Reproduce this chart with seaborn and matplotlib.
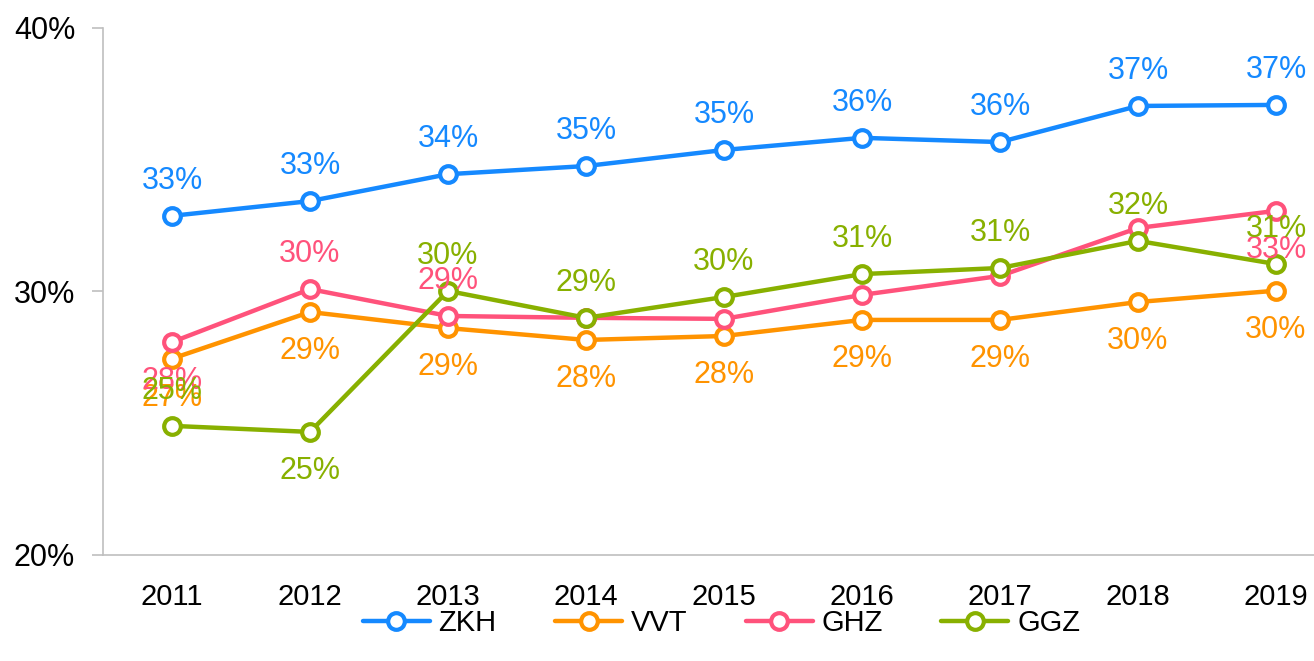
import matplotlib
matplotlib.use('Agg')
import matplotlib.pyplot as plt
import matplotlib.ticker as mticker
import pandas as pd
import seaborn as sns

# data (percent)
years = ['2011', '2012', '2013', '2014', '2015', '2016', '2017', '2018', '2019']
zkh = [32.87, 33.43, 34.45, 34.76, 35.37, 35.83, 35.67, 37.04, 37.08]
vvt = [27.45, 29.22, 28.61, 28.16, 28.31, 28.92, 28.92, 29.60, 30.03]
ghz = [28.08, 30.09, 29.07, 29.00, 28.96, 29.87, 30.59, 32.41, 33.06]
ggz = [24.90, 24.67, 30.02, 29.00, 29.79, 30.66, 30.89, 31.92, 31.04]
series = ['ZKH', 'VVT', 'GHZ', 'GGZ']
colors = ['#1589FF', '#FF9300', '#FF527B', '#88B000']

# where each data label goes: 1 above, -1 below, 0 no label
label_pos = {
    'ZKH': [1, 1, 1, 1, 1, 1, 1, 1, 1],
    'VVT': [-1, -1, -1, -1, -1, -1, -1, -1, -1],
    'GHZ': [-1, 1, 1, 0, 0, 0, 0, 0, -1],
    'GGZ': [1, -1, 1, 1, 1, 1, 1, 1, 1],
}

values = {'ZKH': zkh, 'VVT': vvt, 'GHZ': ghz, 'GGZ': ggz}
df = pd.DataFrame([(y, s, v) for s in series for y, v in zip(years, values[s])],
                  columns=['year', 'series', 'value'])

sns.set_style('white')
plt.rcParams['font.family'] = ['Liberation Sans', 'DejaVu Sans']
plt.rcParams['text.color'] = 'black'
plt.rcParams['xtick.labelcolor'] = 'black'
plt.rcParams['ytick.labelcolor'] = 'black'

fig = plt.figure(figsize=(13.14, 6.61), dpi=100)
ax = fig.add_axes([0.0784, 0.1604, 0.9452, 0.7973])

sns.lineplot(data=df, x='year', y='value', hue='series', hue_order=series,
             palette=colors, marker='o', markersize=12, markerfacecolor='white',
             markeredgewidth=3, linewidth=3.2, legend=False, ax=ax, sort=False)
# seaborn paints marker edges white, give them the line colour
for line, c in zip(ax.get_lines(), colors):
    line.set_markeredgecolor(c)
    line.set_markerfacecolor('white')
    line.set_markeredgewidth(3)

# data labels
for s, c in zip(series, colors):
    for i, v in enumerate(values[s]):
        p = label_pos[s][i]
        if p == 0:
            continue
        off = 25 if p > 0 else -28
        ax.annotate(f'{v:.0f}%', (i, v), xytext=(0, off), textcoords='offset points',
                    ha='center', va='center', color=c, fontsize=22)

ax.set_xlim(-0.5, 8.5)
ax.set_ylim(20, 40)
ax.set_yticks([20, 30, 40])
ax.yaxis.set_major_formatter(mticker.FuncFormatter(lambda v, _: f'{v:.0f}%'))
ax.set_xticks(range(len(years)))
ax.set_xticklabels(years)
ax.set_xticks([i - 0.5 for i in range(len(years) + 1)], minor=True)
ax.tick_params(axis='x', which='major', length=0, pad=20, labelsize=21)
ax.tick_params(axis='x', which='minor', length=9, width=1.2, color='#BFBFBF', direction='out')
ax.tick_params(axis='y', length=8, width=1.2, color='#BFBFBF', pad=12, labelsize=22, left=True)
ax.set_xlabel('')
ax.set_ylabel('')
for sp in ['top', 'right']:
    ax.spines[sp].set_visible(False)
for sp in ['left', 'bottom']:
    ax.spines[sp].set_color('#BFBFBF')
    ax.spines[sp].set_linewidth(1.2)

handles = ax.get_lines()[:len(series)]
fig.legend(handles, series, loc='center', bbox_to_anchor=(0.549, 0.057), ncol=4,
           frameon=False, fontsize=21, handlelength=2.3, columnspacing=2.0,
           handletextpad=0.3)

fig.savefig('out.png', dpi=100)
